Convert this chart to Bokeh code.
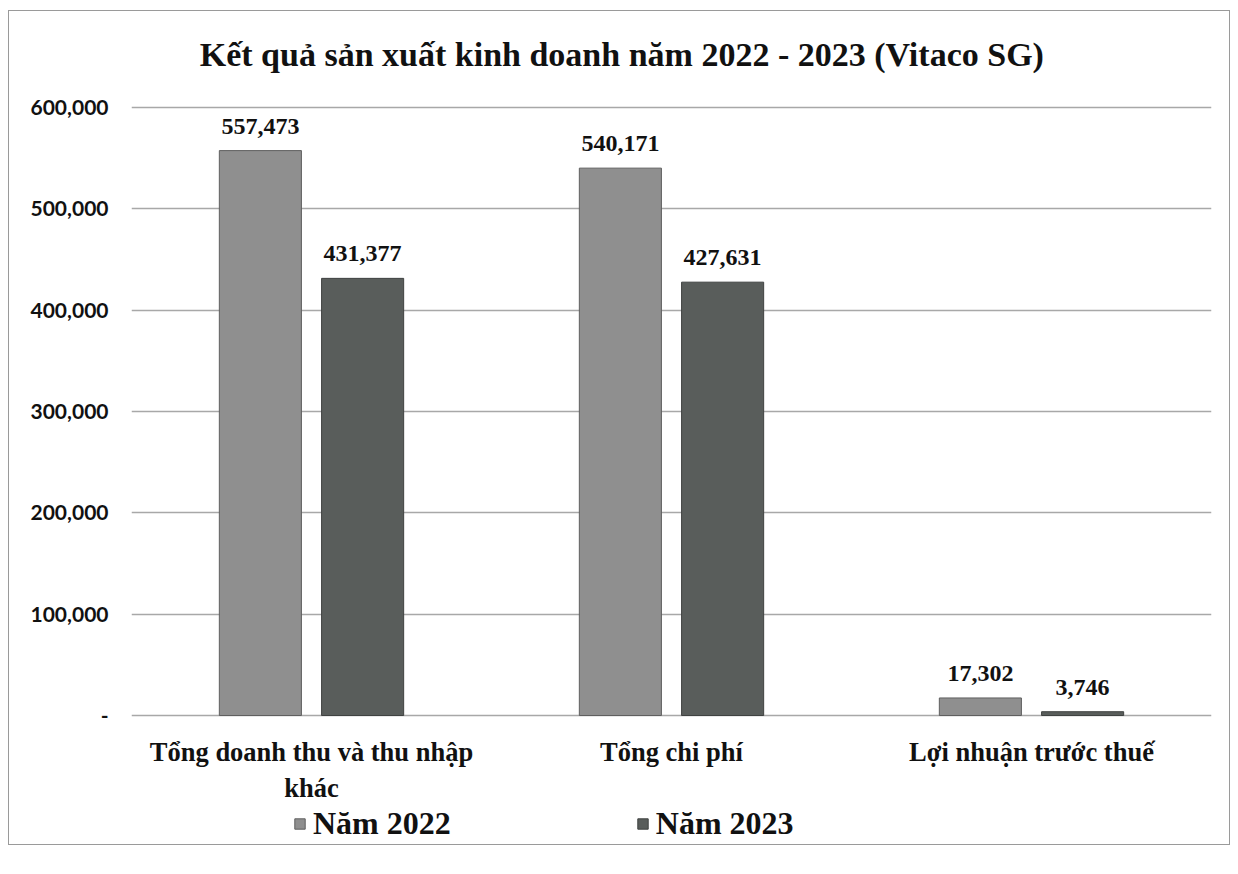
from bokeh.plotting import figure
from bokeh.models import (ColumnDataSource, Range1d, FactorRange, LabelSet, Label, Legend, LegendItem,
                          NumeralTickFormatter, FixedTicker)
from bokeh.transform import dodge
from bokeh.embed import file_html
from bokeh.resources import INLINE
from bokeh.core.properties import value

# ---------------- data ----------------
categories = ["Tổng doanh thu và thu nhập\nkhác", "Tổng chi phí", "Lợi nhuận trước thuế"]
series_names = ["Năm 2022", "Năm 2023"]
values_2022 = [557473, 540171, 17302]
values_2023 = [431377, 427631, 3746]
y_ticks = [0, 100000, 200000, 300000, 400000, 500000, 600000]
title_text = "Kết quả sản xuất kinh doanh năm 2022 - 2023 (Vitaco SG)"

fmt = lambda v: f"{v:,}"
src = ColumnDataSource(dict(
    cat=categories,
    v22=values_2022,
    v23=values_2023,
    l22=[fmt(v) for v in values_2022],
    l23=[fmt(v) for v in values_2023],
))

# ---------------- layout constants ----------------
W, H = 1222, 835
TOP_IMG = 10          # figure top in page pixels
ZERO_IMG = 714        # page y of value 0
SCALE = 600000 / 608  # value units per pixel
def v_at(img_y):
    return (ZERO_IMG - img_y) * SCALE

SERIF = "Liberation Serif"
C22 = "#8f8f8f"
C23 = "#595d5b"
TXT = "#111111"

p = figure(
    x_range=FactorRange(*categories),
    y_range=Range1d(v_at(TOP_IMG + H), v_at(TOP_IMG)),
    width=W, height=H,
    x_axis_location=None, y_axis_location="left",
    output_backend="svg", toolbar_location=None,
    min_border_left=122, min_border_right=20, min_border_top=0, min_border_bottom=0,
)
p.styles = {"border": "1px solid #9a9a9a", "margin-left": "8px", "margin-top": "10px"}
p.outline_line_color = None
p.background_fill_color = "white"
p.border_fill_color = "white"

r22 = p.vbar(x=dodge("cat", -0.142, range=p.x_range), top="v22", width=0.228, source=src,
             fill_color=C22, line_color="#5f5f5f", line_width=1)
r23 = p.vbar(x=dodge("cat", 0.142, range=p.x_range), top="v23", width=0.228, source=src,
             fill_color=C23, line_color="#3f4241", line_width=1)

for col, lab, off in (("v22", "l22", -0.142), ("v23", "l23", 0.142)):
    ls = LabelSet(x=dodge("cat", off, range=p.x_range), y=col, text=lab, source=src,
                  text_align="center", text_baseline="alphabetic", y_offset=17,
                  text_font=SERIF, text_font_style="bold", text_font_size="24px",
                  text_color=TXT)
    p.add_layout(ls)

# category labels (under the baseline)
p.text(x="cat", y=v_at(735), text="cat", source=src,
       text_align="center", text_baseline="top", text_line_height=1.2,
       text_font=value(SERIF), text_font_style="bold", text_font_size="26.5px",
       text_color=TXT)

# y axis
p.yaxis.ticker = FixedTicker(ticks=y_ticks)
p.yaxis.formatter = NumeralTickFormatter(format="0,0")
p.yaxis.major_label_overrides = {0: "-"}
p.yaxis.axis_line_color = None
p.yaxis.major_tick_line_color = None
p.yaxis.minor_tick_line_color = None
p.yaxis.major_label_text_font = "Lato"
p.yaxis.major_label_text_font_style = "bold"
p.yaxis.major_label_text_font_size = "21px"
p.yaxis.major_label_text_color = TXT
p.yaxis.major_label_standoff = 17

p.xgrid.grid_line_color = None
p.ygrid.ticker = FixedTicker(ticks=y_ticks)
p.ygrid.grid_line_color = "#a8a8a8"
p.ygrid.grid_line_width = 1.5

title = Label(x=1.362, y=v_at(53), text=title_text, text_align="center", text_baseline="alphabetic",
              text_font=SERIF, text_font_style="bold", text_font_size="34px", text_color=TXT)
p.add_layout(title)

legend = Legend(items=[LegendItem(label=series_names[0], renderers=[r22]),
                       LegendItem(label=series_names[1], renderers=[r23])],
                location=(162, 4), orientation="horizontal",
                padding=0, margin=0, spacing=185,
                glyph_width=13, glyph_height=13, label_standoff=7, label_height=36,
                label_text_font=SERIF, label_text_font_style="bold", label_text_font_size="32px",
                label_text_color=TXT, background_fill_alpha=0, border_line_color=None)
p.add_layout(legend, "center")

open("out.html", "w").write(file_html(p, INLINE))
